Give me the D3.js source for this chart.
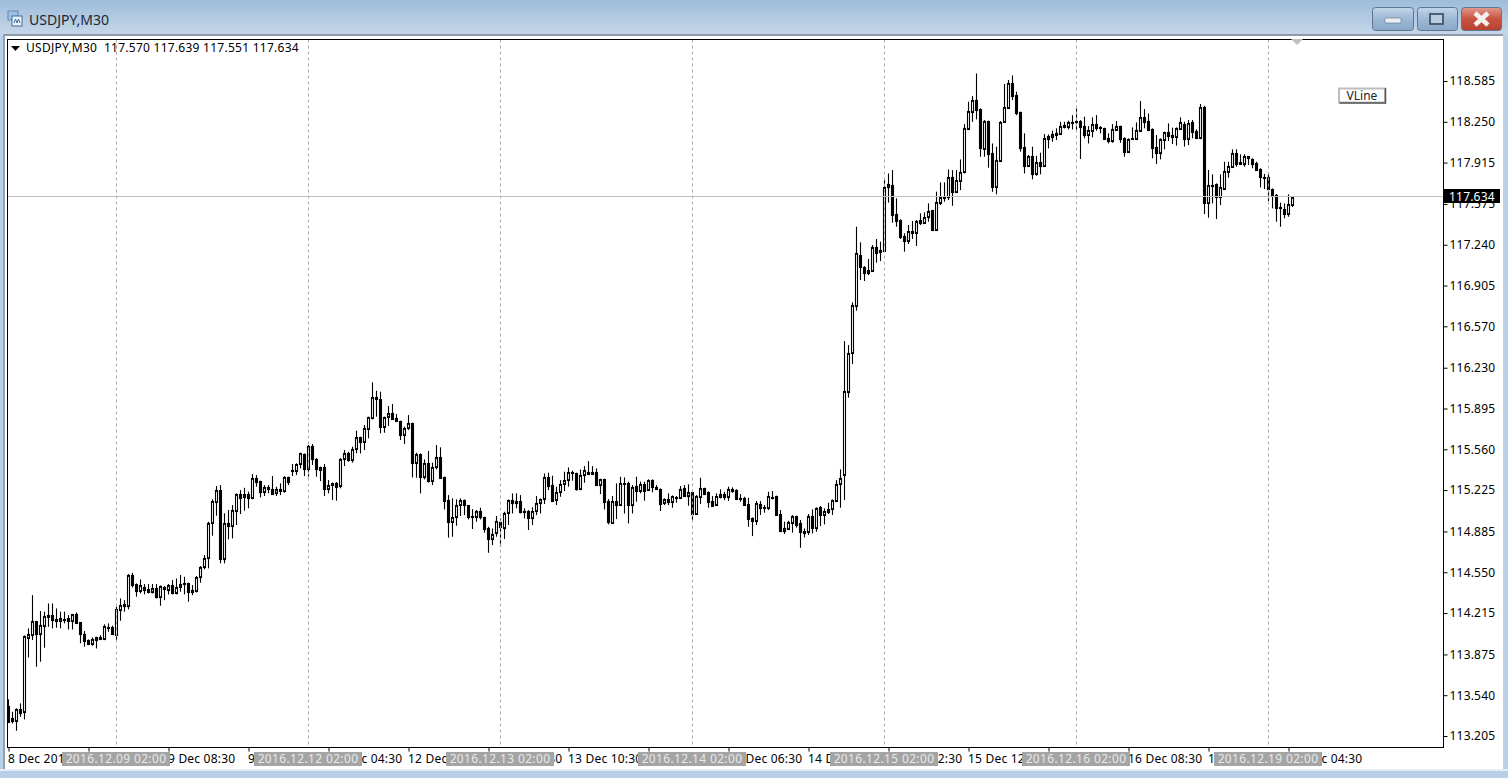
<!DOCTYPE html>
<html><head><meta charset="utf-8">
<script src="https://d3js.org/d3.v7.min.js"></script>
<style>
html,body{margin:0;padding:0;background:#fff;overflow:hidden}
svg{display:block}
text{font-family:"Noto Sans",Tahoma,sans-serif}
.tk text{font-size:12px;fill:#000;letter-spacing:.2px}
</style></head><body><svg id="c" width="1508" height="778"></svg>
<script>
const opens=[113.451,113.349,113.330,113.423,113.404,114.009,114.034,114.149,114.042,114.111,
114.198,114.198,114.163,114.152,114.165,114.174,114.152,114.206,114.138,114.039,
113.993,113.960,113.993,114.015,113.998,114.102,114.097,114.034,114.239,114.289,
114.275,114.527,114.453,114.398,114.431,114.409,114.384,114.417,114.343,114.431,
114.404,114.445,114.376,114.425,114.458,114.458,114.384,114.398,114.508,114.596,
114.664,114.957,115.130,115.225,114.656,114.952,114.932,115.056,115.190,115.171,
115.190,115.162,115.321,115.296,115.212,115.247,115.231,115.203,115.231,115.220,
115.329,115.390,115.384,115.436,115.521,115.401,115.587,115.483,115.390,115.412,
115.236,115.264,115.286,115.258,115.477,115.526,115.472,115.559,115.658,115.622,
115.729,115.819,115.986,115.970,115.740,115.822,115.855,115.814,115.795,115.680,
115.732,115.773,115.444,115.518,115.329,115.444,115.302,115.411,115.493,115.329,
115.143,114.965,115.006,115.099,115.143,115.099,115.012,115.006,115.053,115.001,
114.913,114.825,114.875,114.965,114.916,115.033,115.143,115.135,115.132,115.053,
115.053,114.998,115.053,115.116,115.148,115.329,115.266,115.143,115.206,115.272,
115.307,115.370,115.362,115.233,115.346,115.373,115.370,115.370,115.269,115.313,
115.135,114.957,115.135,115.102,115.277,115.280,115.102,115.258,115.217,115.274,
115.225,115.307,115.253,115.231,115.116,115.148,115.127,115.165,115.162,115.239,
115.176,115.206,115.025,115.170,115.239,115.209,115.135,115.099,115.170,115.192,
115.170,115.231,115.225,115.157,115.159,115.110,114.995,114.973,115.110,115.085,
115.080,115.170,115.176,115.025,114.891,114.908,114.957,115.009,114.951,114.886,
114.880,115.012,114.913,115.083,115.023,115.044,115.072,115.138,115.274,115.346,
116.033,116.353,116.739,117.156,117.054,117.011,117.024,117.219,117.197,117.191,
117.717,117.731,117.492,117.443,117.309,117.273,117.353,117.339,117.440,117.421,
117.471,117.523,117.361,117.580,117.629,117.629,117.793,117.675,117.766,117.837,
118.190,118.333,118.428,118.355,118.029,118.256,117.990,117.711,117.930,118.245,
118.365,118.565,118.469,118.327,118.040,117.889,117.968,117.821,117.919,117.886,
118.111,118.127,118.155,118.149,118.220,118.209,118.248,118.245,118.259,118.215,
118.141,118.176,118.231,118.204,118.196,118.116,118.095,118.185,118.215,118.119,
118.002,118.111,118.111,118.177,118.286,118.256,118.188,118.046,117.996,118.100,
118.166,118.141,118.128,118.191,118.232,118.111,118.245,118.177,118.119,118.374,
117.586,117.731,117.739,117.635,117.701,117.840,117.876,117.991,117.917,117.903,
117.969,117.941,117.914,117.862,117.799,117.794,117.698,117.648,117.553,117.534,
117.492,117.570];
const closes=[113.322,113.330,113.426,113.396,114.026,114.042,114.149,114.042,114.116,114.190,
114.179,114.157,114.152,114.171,114.168,114.152,114.204,114.135,114.039,113.987,
113.960,113.998,114.015,114.004,114.108,114.097,114.042,114.245,114.280,114.275,
114.527,114.445,114.398,114.445,114.404,114.384,114.417,114.343,114.436,114.409,
114.445,114.376,114.431,114.453,114.450,114.384,114.404,114.513,114.595,114.664,
114.957,115.135,115.225,114.656,114.952,114.930,115.061,115.190,115.162,115.190,
115.162,115.321,115.294,115.212,115.247,115.231,115.192,115.231,115.220,115.335,
115.294,115.379,115.436,115.526,115.401,115.587,115.477,115.395,115.412,115.236,
115.264,115.280,115.253,115.483,115.526,115.472,115.562,115.658,115.622,115.732,
115.822,115.986,115.976,115.740,115.822,115.855,115.811,115.795,115.680,115.732,
115.773,115.444,115.521,115.329,115.444,115.302,115.411,115.493,115.326,115.138,
114.965,115.006,115.099,115.143,115.099,115.006,115.006,115.053,115.003,114.908,
114.825,114.861,114.968,114.918,115.033,115.143,115.121,115.121,115.044,115.047,
114.998,115.053,115.116,115.148,115.329,115.261,115.138,115.206,115.274,115.307,
115.370,115.362,115.231,115.346,115.389,115.359,115.359,115.266,115.313,115.129,
114.960,115.135,115.102,115.280,115.280,115.102,115.247,115.217,115.274,115.220,
115.307,115.253,115.231,115.110,115.148,115.127,115.176,115.157,115.231,115.179,
115.206,115.025,115.176,115.239,115.192,115.129,115.094,115.176,115.190,115.170,
115.233,115.220,115.154,115.151,115.102,114.990,114.973,115.116,115.080,115.080,
115.176,115.165,115.020,114.886,114.913,114.962,115.009,114.938,114.880,114.875,
115.009,114.913,115.077,115.020,115.050,115.072,115.143,115.272,115.321,116.039,
116.348,116.742,117.169,117.060,117.011,117.030,117.219,117.175,117.183,117.711,
117.736,117.484,117.438,117.306,117.273,117.350,117.339,117.438,117.421,117.471,
117.520,117.361,117.588,117.629,117.634,117.793,117.675,117.771,117.834,118.196,
118.338,118.428,118.346,118.031,118.256,117.988,117.717,117.936,118.245,118.368,
118.565,118.461,118.324,118.037,117.889,117.966,117.821,117.919,117.886,118.114,
118.133,118.149,118.144,118.215,118.207,118.245,118.237,118.259,118.209,118.141,
118.182,118.231,118.198,118.196,118.105,118.094,118.188,118.213,118.111,118.004,
118.106,118.114,118.182,118.286,118.251,118.182,118.037,117.996,118.106,118.163,
118.136,118.128,118.196,118.245,118.111,118.237,118.169,118.119,118.369,117.586,
117.731,117.725,117.635,117.711,117.846,117.887,117.991,117.903,117.903,117.969,
117.955,117.903,117.854,117.794,117.791,117.695,117.640,117.539,117.539,117.492,
117.572,117.634];
const highs=[113.506,113.404,113.432,113.473,114.031,114.089,114.362,114.149,114.231,114.226,
114.294,114.294,114.253,114.226,114.226,114.198,114.206,114.220,114.138,114.067,
113.998,114.015,114.020,114.034,114.122,114.130,114.111,114.267,114.335,114.321,
114.535,114.546,114.458,114.491,114.453,114.453,114.453,114.453,114.442,114.436,
114.453,114.486,114.499,114.527,114.513,114.464,114.445,114.519,114.601,114.691,
114.965,115.149,115.258,115.266,115.034,115.061,115.102,115.198,115.225,115.244,
115.212,115.357,115.349,115.302,115.266,115.266,115.340,115.253,115.280,115.340,
115.335,115.439,115.444,115.532,115.526,115.595,115.603,115.488,115.417,115.439,
115.307,115.286,115.291,115.488,115.554,115.540,115.581,115.713,115.663,115.759,
115.828,116.110,116.041,116.033,115.828,115.915,115.932,115.850,115.795,115.746,
115.841,115.778,115.532,115.526,115.477,115.546,115.450,115.595,115.576,115.335,
115.184,115.157,115.148,115.157,115.148,115.102,115.069,115.061,115.080,115.006,
114.924,114.910,115.012,114.992,115.047,115.148,115.198,115.198,115.184,115.075,
115.061,115.083,115.176,115.157,115.362,115.368,115.343,115.253,115.307,115.376,
115.411,115.384,115.368,115.395,115.422,115.463,115.422,115.403,115.318,115.318,
115.151,115.176,115.280,115.335,115.329,115.294,115.266,115.335,115.294,115.294,
115.313,115.313,115.266,115.239,115.157,115.198,115.181,115.176,115.258,115.266,
115.272,115.211,115.184,115.326,115.244,115.214,115.176,115.198,115.231,115.211,
115.253,115.247,115.231,115.192,115.170,115.162,115.001,115.135,115.135,115.102,
115.211,115.217,115.179,115.061,114.965,114.973,115.020,115.014,114.979,114.910,
115.028,115.066,115.083,115.094,115.075,115.121,115.148,115.307,115.395,116.449,
116.416,116.767,117.388,117.260,117.065,117.123,117.238,117.287,117.265,117.772,
117.826,117.854,117.621,117.449,117.334,117.402,117.435,117.443,117.498,117.506,
117.580,117.525,117.676,117.752,117.752,117.859,117.853,117.853,117.941,118.231,
118.415,118.461,118.647,118.360,118.264,118.259,118.072,118.045,118.256,118.560,
118.593,118.631,118.497,118.333,118.155,117.977,118.045,117.971,117.996,118.149,
118.146,118.177,118.196,118.250,118.250,118.259,118.305,118.360,118.264,118.292,
118.215,118.286,118.305,118.215,118.201,118.155,118.232,118.256,118.218,118.122,
118.114,118.204,118.245,118.421,118.355,118.319,118.196,118.141,118.114,118.169,
118.237,118.202,118.204,118.286,118.251,118.265,118.265,118.188,118.396,118.382,
117.854,117.818,117.744,117.818,117.922,117.922,118.024,118.024,117.983,117.983,
117.969,117.950,117.922,117.868,117.821,117.827,117.703,117.657,117.586,117.580,
117.654,117.639];
const lows=[113.322,113.308,113.248,113.363,113.341,113.850,113.993,113.774,113.815,113.930,
114.102,114.089,114.094,114.089,114.130,114.080,114.080,114.130,113.966,113.938,
113.952,113.946,113.924,113.993,113.993,114.061,114.034,113.993,114.152,114.226,
114.245,114.425,114.349,114.376,114.368,114.376,114.376,114.335,114.275,114.321,
114.368,114.368,114.368,114.390,114.368,114.308,114.362,114.384,114.464,114.574,
114.582,114.850,115.014,114.623,114.623,114.820,114.828,114.938,115.028,115.056,
115.075,115.151,115.253,115.165,115.176,115.198,115.192,115.176,115.184,115.203,
115.266,115.340,115.349,115.403,115.340,115.335,115.431,115.335,115.299,115.176,
115.198,115.143,115.138,115.239,115.422,115.458,115.450,115.526,115.526,115.554,
115.650,115.806,115.828,115.691,115.696,115.751,115.806,115.787,115.636,115.603,
115.718,115.329,115.327,115.198,115.313,115.286,115.266,115.395,115.318,115.066,
114.834,114.842,114.932,115.012,115.020,114.984,114.905,114.965,114.984,114.875,
114.710,114.773,114.842,114.760,114.823,114.938,115.033,115.075,115.033,114.992,
114.897,114.938,115.020,115.033,115.110,115.225,115.132,115.102,115.170,115.217,
115.253,115.302,115.220,115.225,115.285,115.348,115.354,115.258,115.192,115.066,
114.943,114.951,114.987,115.102,115.033,114.951,115.033,115.129,115.198,115.138,
115.220,115.206,115.225,115.053,115.102,115.102,115.080,115.121,115.159,115.176,
115.096,114.979,115.025,115.110,115.184,115.080,115.088,115.094,115.157,115.143,
115.135,115.203,115.148,115.129,115.094,114.924,114.847,114.938,115.020,115.039,
115.061,115.148,115.012,114.880,114.864,114.905,114.875,114.916,114.751,114.836,
114.856,114.869,114.883,114.929,114.943,115.028,115.020,115.135,115.080,115.143,
115.984,116.260,116.698,116.950,116.942,116.991,117.019,117.093,117.106,117.191,
117.586,117.421,117.388,117.287,117.183,117.246,117.287,117.230,117.402,117.416,
117.429,117.356,117.356,117.566,117.593,117.607,117.560,117.670,117.689,117.826,
118.187,118.250,118.270,117.963,117.963,117.873,117.675,117.654,117.930,118.245,
118.360,118.428,118.305,118.004,117.826,117.881,117.777,117.807,117.818,117.881,
118.031,118.086,118.100,118.141,118.196,118.187,118.187,118.182,117.944,118.114,
118.072,118.122,118.176,118.155,118.100,118.072,118.078,118.177,118.078,117.963,
117.996,118.108,118.108,118.177,118.196,118.177,117.950,117.903,117.941,118.024,
118.092,118.067,118.054,118.182,118.046,118.059,118.114,118.114,118.108,117.492,
117.462,117.580,117.451,117.566,117.698,117.791,117.873,117.881,117.895,117.881,
117.895,117.868,117.846,117.711,117.698,117.599,117.539,117.429,117.388,117.457,
117.470,117.551];
const priceTicks=[118.585,118.250,117.915,117.575,117.240,116.905,116.570,116.230,115.895,115.560,115.225,114.885,114.550,114.215,113.875,113.540,113.205];
const timeTickBars=[0,20,40,60,80,100,120,140,160,180,200,220,240,260,280,300,320];
const timeTickLabels=["8 Dec 2016 12:30","8 Dec 22:30","9 Dec 08:30","9 Dec 18:30","12 Dec 04:30","12 Dec 14:30","13 Dec 00:30","13 Dec 10:30","13 Dec 20:30","14 Dec 06:30","14 Dec 16:30","15 Dec 02:30","15 Dec 12:30","15 Dec 22:30","16 Dec 08:30","16 Dec 18:30","19 Dec 04:30"];
const separatorBars=[27,75,123,171,219,267,315];
const separatorLabels=["2016.12.09 02:00","2016.12.12 02:00","2016.12.13 02:00","2016.12.14 02:00","2016.12.15 02:00","2016.12.16 02:00","2016.12.19 02:00"];
const lastPrice=117.634;
const titleText="USDJPY,M30";
const legendText="USDJPY,M30  117.570 117.639 117.551 117.634";

const L=7.5,R=1443.5,T=39.5,B=747.5;
const x=d3.scaleLinear().domain([0,321]).range([8.5,1292.5]);
const y=d3.scaleLinear().domain([113.205,118.585]).range([736,81]);
const svg=d3.select("#c");
const defs=svg.append("defs");
const g1=defs.append("linearGradient").attr("id","tb").attr("x1",0).attr("x2",0).attr("y1",0).attr("y2",1);
g1.append("stop").attr("offset",0).attr("stop-color","#9fbcdb");
g1.append("stop").attr("offset",1).attr("stop-color","#c6d7e9");
const g2=defs.append("linearGradient").attr("id","bt").attr("x1",0).attr("x2",0).attr("y1",0).attr("y2",1);
g2.append("stop").attr("offset",0).attr("stop-color","#c3d6ea");
g2.append("stop").attr("offset",.5).attr("stop-color","#9db8d5");
g2.append("stop").attr("offset",1).attr("stop-color","#8aa8c8");
const g3=defs.append("linearGradient").attr("id","cl").attr("x1",0).attr("x2",0).attr("y1",0).attr("y2",1);
g3.append("stop").attr("offset",0).attr("stop-color","#df9a8e");
g3.append("stop").attr("offset",.5).attr("stop-color","#c9523f");
g3.append("stop").attr("offset",1).attr("stop-color","#b84030");

// window chrome
svg.append("rect").attr("width",1508).attr("height",778).attr("fill","#b9d0e8");
svg.append("rect").attr("width",1508).attr("height",35).attr("fill","url(#tb)");
svg.append("rect").attr("x",4).attr("y",35).attr("width",1499).attr("height",735).attr("fill","#fff");
svg.append("rect").attr("x",4).attr("y",34).attr("width",1499).attr("height",2).attr("fill","#8c9aa8");
svg.append("rect").attr("x",3).attr("y",34).attr("width",2).attr("height",736).attr("fill","#93a2b2");
svg.append("rect").attr("x",0).attr("y",770).attr("width",1508).attr("height",8).attr("fill","#b7cfe9");
svg.append("rect").attr("x",0).attr("y",769).attr("width",1508).attr("height",2).attr("fill","#e6edf4");

// window icon
svg.append("rect").attr("x",8).attr("y",11).attr("width",10).attr("height",9).attr("fill","#9dc0e2").attr("stroke","#5e8ab8");
svg.append("rect").attr("x",12).attr("y",16).attr("width",10).attr("height",10).attr("fill","#e9f1f9").attr("stroke","#3f6e9f");
svg.append("path").attr("d","M14,23 L15.5,19 L17,23 L18.5,19 L20,23").attr("fill","none").attr("stroke","#3f6e9f");
svg.append("text").attr("x",29).attr("y",25).attr("font-size",14).attr("fill","#1c2733").text(titleText);

// window buttons
[[1372,41,"url(#bt)"],[1417,40,"url(#bt)"],[1461,40,"url(#cl)"]].forEach(b=>{
  svg.append("rect").attr("x",b[0]+.5).attr("y",7.5).attr("width",b[1]).attr("height",23).attr("rx",3).attr("fill",b[2]).attr("stroke","#5f7690");
});
svg.append("rect").attr("x",1385).attr("y",18).attr("width",16).attr("height",5).attr("rx",1).attr("fill","#e8eef5").attr("stroke","#5d7085").attr("stroke-width",.6);
svg.append("rect").attr("x",1430).attr("y",14).attr("width",13).attr("height",10).attr("fill","#b9cde2").attr("stroke","#4d5f73").attr("stroke-width",2);
svg.append("path").attr("d","M1475,13 L1488,25 M1488,13 L1475,25").attr("stroke","#f4f1ee").attr("stroke-width",4.5);

// candles
const idx=d3.range(opens.length);
const plot=svg.append("g");
plot.selectAll("line.w").data(idx).join("line").attr("class","w")
 .attr("x1",i=>x(i)).attr("x2",i=>x(i)).attr("y1",i=>y(highs[i])).attr("y2",i=>y(lows[i]))
 .attr("stroke","#000").attr("stroke-width",1.1);
plot.selectAll("rect.b").data(idx).join("rect").attr("class","b")
 .attr("x",i=>x(i)-1).attr("width",2)
 .attr("y",i=>Math.round(y(Math.max(opens[i],closes[i])))+.5)
 .attr("height",i=>Math.max(Math.round(y(Math.min(opens[i],closes[i])))-Math.round(y(Math.max(opens[i],closes[i]))),1))
 .attr("fill",i=>closes[i]>=opens[i]?"#fff":"#000").attr("stroke","#000").attr("stroke-width",1.1);

// separators and last price line (drawn above the bars)
svg.selectAll("line.sep").data(separatorBars).join("line").attr("class","sep")
 .attr("x1",d=>x(d)).attr("x2",d=>x(d)).attr("y1",T).attr("y2",B)
 .attr("stroke","#a8a8a8").attr("stroke-dasharray","3,3");
svg.append("line").attr("x1",L).attr("x2",R).attr("y1",Math.floor(y(lastPrice))+.5).attr("y2",Math.floor(y(lastPrice))+.5).attr("stroke","#c0c0c0");

// frame
svg.append("rect").attr("x",L).attr("y",T).attr("width",R-L).attr("height",B-T).attr("fill","none").attr("stroke","#000");

// shift marker
svg.append("path").attr("d","M1291,39 L1303,39 L1297,45 Z").attr("fill","#c0c0c0");

// axes
const ya=d3.axisRight(y).tickValues(priceTicks).tickFormat(d3.format(".3f")).tickSize(4).tickPadding(2);
const yg=svg.append("g").attr("class","tk").attr("transform",`translate(${R},0)`).call(ya);
yg.select(".domain").remove();
const xa=d3.axisBottom(x).tickValues(timeTickBars).tickFormat((d,i)=>timeTickLabels[i]).tickSize(4).tickPadding(3);
const xg=svg.append("g").attr("class","tk").attr("transform",`translate(0,${B})`).call(xa);
xg.select(".domain").remove();
xg.selectAll("text").attr("text-anchor","start").attr("dx",-1);

// separator date boxes
const sg=svg.selectAll("g.sl").data(separatorBars).join("g").attr("class","sl").attr("transform",d=>`translate(${x(d)},0)`);
sg.append("rect").attr("x",-54.5).attr("y",752).attr("width",108).attr("height",14).attr("fill","#a4a4a4");
sg.append("text").attr("text-anchor","middle").attr("y",763).attr("font-size",12).attr("fill","#e8e8e8").attr("x",-.5).style("letter-spacing",".35px").text((d,i)=>separatorLabels[i]);

// last price tag
svg.append("rect").attr("x",1444).attr("y",189).attr("width",56).attr("height",14).attr("fill","#000");
svg.append("text").attr("x",1449).attr("y",201).attr("font-size",12).attr("fill","#fff").style("letter-spacing",".2px").text(d3.format(".3f")(lastPrice));

// legend
svg.append("path").attr("d","M11,46 L20,46 L15.5,51 Z").attr("fill","#000");
svg.append("text").attr("x",26).attr("y",52).attr("font-size",12).style("white-space","pre").style("letter-spacing",".26px").attr("fill","#000").text(legendText);

// VLine label
svg.append("rect").attr("x",1339).attr("y",88.5).attr("width",46).attr("height",14).attr("fill","#fff").attr("stroke","#bdbdbd").attr("stroke-width",2);
svg.append("path").attr("d","M1339.5,103 L1385.5,103 L1385.5,88").attr("fill","none").attr("stroke","#555").attr("stroke-width",1.5);
svg.append("text").attr("x",1362).attr("y",100).attr("text-anchor","middle").attr("font-size",12).attr("fill","#222").text("VLine");
</script></body></html>
